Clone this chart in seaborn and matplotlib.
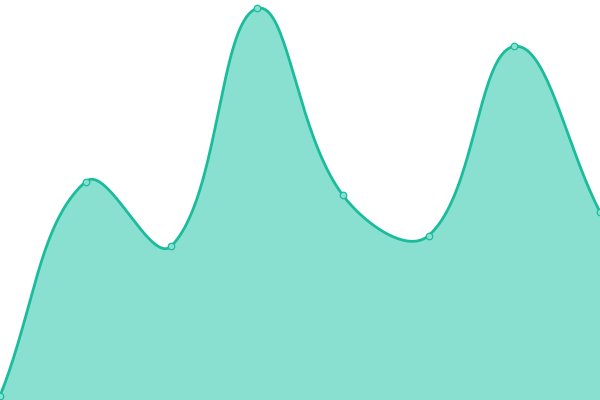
import numpy as np
import pandas as pd
import matplotlib
matplotlib.use('Agg')
import matplotlib.pyplot as plt
import seaborn as sns

# data
steps = [0, 1, 2, 3, 4, 5, 6, 7]
values = [1.0, 54.6, 38.5, 97.9, 51.2, 41.1, 88.4, 47.0]

line_color = '#1abc9c'
fill_color = '#8ae0d0'

W, H = 600, 400
X_MAX, Y_MAX = 7, 100


def smooth_curve(x, y, tension=0.4, n=40):
    """
    Bezier smoothing like chart.js (control points worked out in pixel space)
    """
    sx = W / X_MAX
    sy = H / Y_MAX
    px = np.asarray(x, float) * sx
    py = np.asarray(y, float) * sy
    k = len(px)
    c_prev = np.zeros((k, 2))
    c_next = np.zeros((k, 2))
    for i in range(k):
        i0 = max(i - 1, 0)
        i2 = min(i + 1, k - 1)
        d01 = np.hypot(px[i] - px[i0], py[i] - py[i0])
        d12 = np.hypot(px[i2] - px[i], py[i2] - py[i])
        s01 = d01 / (d01 + d12) if d01 + d12 else 0
        s12 = d12 / (d01 + d12) if d01 + d12 else 0
        fa = tension * s01
        fb = tension * s12
        dx = px[i2] - px[i0]
        dy = py[i2] - py[i0]
        c_prev[i] = [px[i] - fa * dx, py[i] - fa * dy]
        c_next[i] = [px[i] + fb * dx, py[i] + fb * dy]
    # keep control points inside the chart area
    c_prev[:, 1] = np.clip(c_prev[:, 1], 0, H)
    c_next[:, 1] = np.clip(c_next[:, 1], 0, H)
    c_prev[:, 0] = np.clip(c_prev[:, 0], 0, W)
    c_next[:, 0] = np.clip(c_next[:, 0], 0, W)

    xs, ys = [], []
    for i in range(k - 1):
        t = np.linspace(0, 1, n, endpoint=(i == k - 2))[:, None]
        p0 = np.array([px[i], py[i]])
        p1 = c_next[i]
        p2 = c_prev[i + 1]
        p3 = np.array([px[i + 1], py[i + 1]])
        seg = ((1 - t)**3) * p0 + 3 * ((1 - t)**2) * t * p1 \
            + 3 * (1 - t) * t**2 * p2 + t**3 * p3
        xs.extend(seg[:, 0] / sx)
        ys.extend(seg[:, 1] / sy)
    return np.array(xs), np.array(ys)


sns.set_style('white')

fig = plt.figure(figsize=(6, 4), dpi=100)
ax = fig.add_axes([0, 0, 1, 1])

cx, cy = smooth_curve(steps, values)
smooth = pd.DataFrame({'step': cx, 'value': cy})
points = pd.DataFrame({'step': steps, 'value': values})

ax.fill_between(smooth['step'], smooth['value'], 0, color=fill_color, linewidth=0)
sns.lineplot(data=smooth, x='step', y='value', sort=False, color=line_color,
             linewidth=2.0, ax=ax, estimator=None)
sns.scatterplot(data=points, x='step', y='value', s=22, color=fill_color,
                edgecolor=line_color, linewidth=0.9, ax=ax, zorder=5)

ax.set_xlim(0, X_MAX)
ax.set_ylim(0, Y_MAX)
ax.axis('off')

plt.savefig('out.png', dpi=100)
plt.close()
